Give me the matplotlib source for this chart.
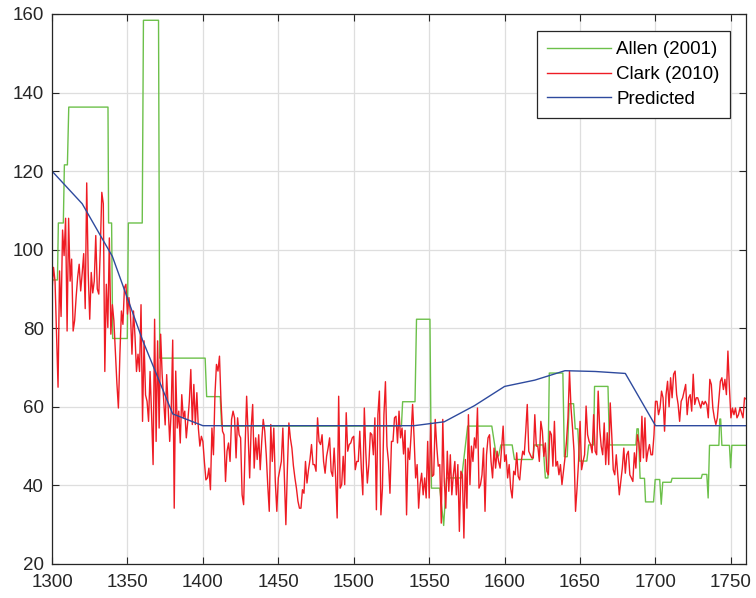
import matplotlib
matplotlib.use("Agg")
import matplotlib.pyplot as plt
import numpy as np

plt.rcParams['font.family'] = ['Liberation Sans', 'DejaVu Sans']

# Allen (2001): stepped series, (year, value) vertices
allen_years = [1300, 1303.6, 1304.2, 1307.5, 1308.2, 1310.2, 1311.1, 1337.1, 1337.5, 1339.5,
               1340.2, 1349.9, 1350.6, 1359.8, 1360.6, 1370.6, 1371.4, 1401.5, 1402.5, 1411.5,
               1412.4, 1531.6, 1532.4, 1540.6, 1541.6, 1550.5, 1551.5, 1557, 1559.6, 1561.5,
               1571.5, 1575.5, 1591.5, 1594.5, 1596, 1597.5, 1605, 1606.5, 1618.5, 1619.7,
               1625.5, 1627, 1628.7, 1629.6, 1638.6, 1639.6, 1641.5, 1642.8, 1645.7, 1646.8,
               1648.5, 1649.6, 1654.5, 1655.7, 1659, 1659.6, 1668.5, 1669.5, 1687, 1687.7,
               1688.6, 1689.8, 1692.7, 1693.4, 1698.7, 1699.8, 1702.8, 1703.8, 1704.8, 1710.3,
               1711, 1730.3, 1731, 1734, 1734.9, 1735.8, 1742, 1742.6, 1743.2, 1744,
               1749, 1749.8, 1750.6, 1760]
allen_values = [92.3, 92.3, 106.8, 106.8, 121.6, 121.6, 136.3, 136.3, 106.8, 106.8,
                77.4, 77.4, 106.8, 106.8, 158.4, 158.4, 72.4, 72.4, 62.6, 62.6,
                55.1, 55.1, 61.3, 61.3, 82.3, 82.3, 39.3, 39.3, 29.8, 41.9,
                41.9, 55.1, 55.1, 47.5, 47.5, 50.3, 50.3, 46.6, 46.6, 50.3,
                50.3, 41.9, 41.9, 68.6, 68.6, 47.3, 47.3, 60.8, 60.8, 54.4,
                54.4, 46.2, 46.2, 50.3, 50.3, 65.2, 65.2, 50.3, 50.3, 54.4,
                54.4, 41.8, 41.8, 35.8, 35.8, 41.5, 41.5, 35.2, 40.8, 40.8,
                41.8, 41.8, 42.8, 42.8, 36.8, 50.2, 50.2, 56.9, 56.9, 50.2,
                50.2, 44.5, 50.2, 50.2]

# Clark (2010): annual values from 1300
clark_values = [
    89.5, 95.5, 92, 78, 65, 94.6, 83, 105, 98.5, 108,
    79.3, 108, 92, 97.6, 79.3, 82, 88, 93, 96.3, 89.5,
    94, 99, 85, 117, 94, 82.3, 94.2, 89, 92, 103.6,
    90, 88.7, 100, 114.6, 111.7, 69, 91.2, 80.2, 103, 78.5,
    86, 82, 74.2, 66, 59.7, 73.4, 84.4, 81, 90.3, 91.2,
    83.6, 87.8, 83.6, 73.4, 84.4, 78, 69, 73.4, 69, 86,
    56.3, 76.8, 63, 61.4, 56.3, 69, 58, 45.3, 82.3, 51.2,
    76.8, 54.6, 78.5, 68.2, 62, 55.4, 68.2, 60, 51.2, 58.9,
    77, 34.2, 69.1, 54.6, 58.9, 50.8, 63.1, 57.2, 58.9, 52.1,
    56.3, 61.4, 69.5, 55.5, 65.7, 55.5, 63.6, 54.6, 50, 52.5,
    51.2, 46, 41.4, 41.9, 44.4, 38.9, 54.6, 47.8, 63.1, 70.8,
    69.1, 72.9, 61.4, 53.8, 52.9, 41, 48.7, 50.8, 46.1, 56.8,
    58.9, 57.2, 47, 57.2, 52.9, 52.1, 37.6, 35.1, 50, 62.7,
    52.9, 41.9, 54.6, 60.6, 44.4, 52.1, 46.6, 52.9, 44, 51.2,
    56.8, 53.8, 47.8, 40, 33.4, 55.5, 46.1, 54.6, 41, 33.4,
    41.9, 44, 46.1, 54.6, 42, 30, 44, 55.9, 52, 49.5,
    45, 41.9, 39.3, 36, 34.2, 34.2, 38.9, 38, 46.1, 40.6,
    44, 46.6, 50.4, 45.3, 45.3, 43.6, 57.2, 51.2, 50.4, 52.9,
    46.1, 43.1, 47.4, 49.5, 52.1, 43.6, 42.3, 49.5, 41.9, 31.7,
    62.7, 39.3, 40.2, 47.4, 40.2, 58.5, 48.7, 50.4, 50.8, 52.1,
    52.5, 44, 46.1, 46.1, 53.8, 44.4, 37.6, 59.7, 48.3, 40.6,
    45.3, 53.4, 52.9, 47.8, 57.2, 33.8, 58, 64, 32.5, 39.3,
    58, 66.4, 50, 46.1, 38, 51.2, 51.2, 57.2, 57.6, 50.8,
    58.9, 52.1, 54.6, 48, 54, 32.5, 49.5, 46.6, 52.9, 60.6,
    52, 41.9, 45.3, 34.2, 40.2, 43.1, 37.6, 41.9, 36.8, 51.2,
    36.8, 55.9, 42.3, 42.7, 56.8, 50, 44.9, 45.3, 30.4, 56.8,
    41, 34.2, 48.7, 38.5, 47.8, 37.6, 42.7, 46.1, 37.6, 45.3,
    28.3, 43.6, 42.7, 26.6, 46.6, 34.2, 58, 40.2, 50, 46.1,
    52.1, 49.5, 59.7, 39.3, 40.2, 42.7, 49.5, 33.4, 47.8, 52.1,
    52.9, 46.1, 41.9, 49.5, 44.4, 48.7, 46.1, 44.4, 49.5, 55.1,
    46.1, 47.8, 41.9, 45.3, 39.3, 36.8, 43.6, 42.7, 48.3, 42.3,
    41.4, 46, 48.7, 47.8, 53.8, 60.6, 48.7, 47.8, 47, 47,
    58, 50, 50, 46.1, 56.3, 53.8, 47.4, 50.8, 43.6, 42.7,
    53.8, 52.9, 44.9, 56.3, 44.9, 46.1, 42.7, 45.3, 40.2, 43.6,
    47, 51.2, 57.2, 69.1, 59.7, 54.6, 48.7, 33.4, 39.3, 46.1,
    56.3, 44, 46.1, 47.8, 60.2, 52.9, 51.2, 50.4, 48.3, 58,
    48.7, 47.8, 64, 54.6, 50, 47.8, 55.9, 45.3, 53.4, 45.3,
    61, 52.9, 44, 42.7, 47.8, 42.7, 37.6, 41, 44.4, 49.5,
    43.1, 47.8, 48.7, 42.7, 41.9, 41, 48.3, 44.4, 52.9, 50.8,
    46.1, 57.6, 47, 57.2, 46.1, 48.7, 50.4, 47.8, 47.8, 52.9,
    61.4, 61.4, 58, 59.7, 64, 62.3, 53.8, 63.1, 66.5, 60,
    67.4, 62.3, 68.3, 69.1, 63.1, 60.6, 56.3, 61.4, 62.3, 64,
    65.7, 58, 62.3, 63.1, 58.9, 68.3, 60.6, 62.3, 62.3, 61,
    59.7, 61.4, 60.6, 61.4, 60.6, 57.2, 67, 65.7, 59.7, 57.2,
    55.5, 57.2, 62, 66.5, 67.4, 64.4, 67, 63.1, 74.2, 64.8,
    57.2, 59.7, 58, 59.7, 57.2, 58, 59.7, 58.5, 57.2, 62.3,
    62,
]
clark_years = 1300 + np.arange(len(clark_values))

# Predicted: every 20 years
pred_years = list(range(1300, 1761, 20))
pred_values = [120, 111.7, 98.3, 77, 58.2, 55.2, 55.2, 55.2, 55.2, 55.2,
               55.2, 55.2, 55.2, 56.2, 60.3, 65.2, 66.8, 69.2, 69.0, 68.5,
               55.2, 55.2, 55.2, 55.2]

fig = plt.figure(figsize=(7.56, 5.98), dpi=100)
ax = fig.add_axes([0.0688, 0.0569, 0.918, 0.9197])

ax.plot(allen_years, allen_values, color='#6cc04a', lw=1.0, label='Allen (2001)')
ax.plot(clark_years, clark_values, color='#ee1c24', lw=1.0, label='Clark (2010)')
ax.plot(pred_years, pred_values, color='#2e4a9e', lw=1.0, label='Predicted')

ax.set_xlim(1300, 1760)
ax.set_ylim(20, 160)
ax.set_xticks(range(1300, 1751, 50))
ax.set_yticks(range(20, 161, 20))
ax.grid(True, color='#dedede', lw=0.9)
ax.set_axisbelow(True)
ax.tick_params(direction='in', top=True, right=True, length=5, width=0.8,
               labelsize=13.5, colors='#262626')
ax.tick_params(axis='x', pad=7)
ax.tick_params(axis='y', pad=6)
for s in ax.spines.values():
    s.set_color('#262626')
    s.set_linewidth(0.9)

leg = ax.legend(loc='upper right', bbox_to_anchor=(0.977, 0.969), borderaxespad=0,
                fontsize=13.5, handlelength=3.4, handletextpad=0.3, labelspacing=0.4,
                borderpad=0.55, fancybox=False, framealpha=1, edgecolor='#262626')
leg.get_frame().set_linewidth(0.9)

fig.savefig('out.png', dpi=100)
